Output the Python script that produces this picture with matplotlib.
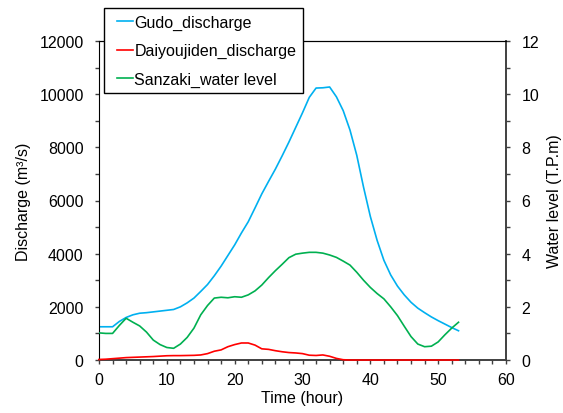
import numpy as np
import matplotlib
matplotlib.use('Agg')
import matplotlib.pyplot as plt
from matplotlib.ticker import MultipleLocator
from matplotlib.lines import Line2D
from matplotlib.legend_handler import HandlerLine2D

plt.rcParams['font.family'] = ['Liberation Sans', 'DejaVu Sans']
plt.rcParams['font.size'] = 11.5

# hourly series, t = 0 .. 53 h
time_h = np.arange(0, 54)

gudo_discharge = [
    1250, 1250, 1250, 1450, 1600, 1700, 1760, 1780, 1810, 1840,
    1870, 1900, 2000, 2150, 2330, 2580, 2840, 3170, 3530, 3930,
    4330, 4780, 5200, 5720, 6250, 6720, 7180, 7680, 8200, 8750,
    9300, 9880, 10230, 10240, 10270, 9900, 9380, 8650, 7700, 6500,
    5400, 4500, 3750, 3200, 2780, 2450, 2170, 1950, 1780, 1620,
    1480, 1350, 1220, 1100]

daiyoujiden_discharge = [
    20, 30, 50, 70, 90, 100, 110, 120, 130, 145,
    160, 165, 165, 170, 175, 190, 240, 330, 380, 500,
    580, 640, 640, 560, 420, 400, 350, 310, 280, 265,
    240, 180, 170, 190, 140, 60, 10, 0, 0, 0,
    0, 0, 0, 0, 0, 0, 0, 0, 0, 0,
    0, 0, 0, 0]

sanzaki_level = [
    1.02, 1.00, 1.00, 1.30, 1.57, 1.42, 1.28, 1.05, 0.75, 0.58,
    0.47, 0.44, 0.60, 0.85, 1.20, 1.70, 2.05, 2.33, 2.36, 2.34,
    2.38, 2.36, 2.45, 2.60, 2.82, 3.10, 3.36, 3.60, 3.85, 3.98,
    4.02, 4.05, 4.05, 4.02, 3.95, 3.86, 3.72, 3.57, 3.30, 3.00,
    2.73, 2.50, 2.30, 2.00, 1.67, 1.27, 0.88, 0.60, 0.50, 0.52,
    0.68, 0.95, 1.20, 1.42]

fig = plt.figure(figsize=(5.63, 4.14), dpi=100)
ax1 = fig.add_axes([99/563, 1-361/414, (506-99)/563, (361-42)/414])
ax2 = ax1.twinx()

l1, = ax1.plot(time_h, gudo_discharge, color='#00B0F0', lw=1.2, label='Gudo_discharge')
l2, = ax1.plot(time_h, daiyoujiden_discharge, color='#FF0000', lw=1.2,
               label='Daiyoujiden_discharge', zorder=3, clip_on=False)
l3, = ax2.plot(time_h, sanzaki_level, color='#00B050', lw=1.2, label='Sanzaki_water level')

ax1.set_xlim(0, 60)
ax1.set_ylim(0, 12000)
ax2.set_ylim(0, 12)
ax1.xaxis.set_major_locator(MultipleLocator(10))
ax1.xaxis.set_minor_locator(MultipleLocator(2))
ax1.yaxis.set_major_locator(MultipleLocator(2000))
ax1.yaxis.set_minor_locator(MultipleLocator(1000))
ax2.yaxis.set_major_locator(MultipleLocator(2))
ax2.yaxis.set_minor_locator(MultipleLocator(1))

for ax in (ax1, ax2):
    ax.tick_params(which='both', direction='out', length=3, width=1, color='#404040')
ax1.tick_params(axis='x', pad=6)
ax1.tick_params(axis='y', pad=8)
ax2.tick_params(axis='y', pad=8)

ax1.spines['left'].set_color('black')
ax1.spines['top'].set_color('black')
ax1.spines['bottom'].set_color('#404040')
ax1.spines['bottom'].set_linewidth(1.4)
ax1.spines['right'].set_visible(False)
# twin axes only keeps its right spine so the red line stays on top of the bottom axis
ax2.spines['bottom'].set_visible(False)
ax2.spines['left'].set_visible(False)
ax2.spines['top'].set_color('black')
ax2.spines['right'].set_color('#404040')
ax2.spines['right'].set_linewidth(1.4)

ax1.set_xlabel('Time (hour)', labelpad=2)
ax1.set_ylabel('Discharge (m³/s)', labelpad=6)
ax2.set_ylabel('Water level (T.P.m)', labelpad=6)

leg = ax2.legend(handles=[l1, l2, l3], loc='upper left',
                 bbox_to_anchor=(104/563, 1-9/414), bbox_transform=fig.transFigure,
                 borderaxespad=0, frameon=True, fancybox=False, framealpha=1,
                 edgecolor='black', handlelength=1.4, handletextpad=0.1,
                 borderpad=0.4, labelspacing=0.85,
                 handler_map={Line2D: HandlerLine2D(xpad=0.4)})
leg.get_frame().set_linewidth(1.0)

fig.savefig('out.png', dpi=100)
